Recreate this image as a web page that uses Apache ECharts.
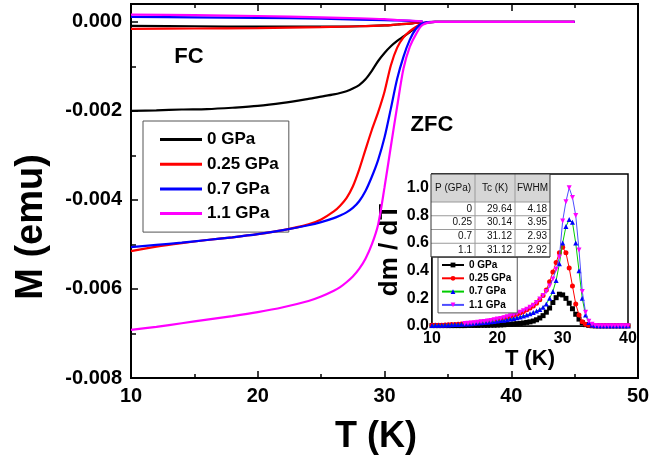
<!DOCTYPE html>
<html>
<head>
<meta charset="utf-8">
<script src="https://cdn.jsdelivr.net/npm/echarts@6/dist/echarts.min.js"></script>
<style>
html, body { margin: 0; padding: 0; background: #ffffff; }
#chart { width: 664px; height: 459px; }
</style>
</head>
<body>
<div id="chart"></div>
<script>
// ---- Magnetization M(T), ZFC branch (emu) ----
const pressureLabels = ['0 GPa', '0.25 GPa', '0.7 GPa', '1.1 GPa'];
const mainColors = ['#000000', '#ff0000', '#0000ff', '#ff00ff'];

const zfcT = [10, 12, 14, 16, 18, 20, 22, 24, 25, 26, 26.5, 27, 27.5, 28, 28.5, 29, 29.5, 30, 30.5, 31, 31.5, 32, 32.5, 33, 34, 36, 38, 40, 42, 45];
const zfc0GPa = [-0.00200, -0.00199, -0.00197, -0.00196, -0.00193, -0.00189, -0.00182, -0.00173, -0.00168, -0.00163, -0.00160, -0.00156, -0.00150, -0.00142, -0.00129, -0.00110, -0.00088, -0.00070, -0.00055, -0.00043, -0.00033, -0.00023, -0.00013, -0.00004, 0, 0, 0, 0, 0, 0];
const zfc025GPa = [-0.00515, -0.00505, -0.00497, -0.00490, -0.00484, -0.00477, -0.00468, -0.00455, -0.00444, -0.00426, -0.00413, -0.00396, -0.00370, -0.00332, -0.00287, -0.00243, -0.00203, -0.00157, -0.00098, -0.00058, -0.00035, -0.00021, -0.00011, -0.00003, 0, 0, 0, 0, 0, 0];
const zfc07GPa = [-0.00506, -0.00501, -0.00496, -0.00490, -0.00484, -0.00477, -0.00468, -0.00457, -0.00450, -0.00441, -0.00435, -0.00428, -0.00418, -0.00403, -0.00380, -0.00348, -0.00310, -0.00260, -0.00195, -0.00128, -0.00078, -0.00040, -0.00015, -0.00003, 0, 0, 0, 0, 0, 0];
const zfc11GPa = [-0.00692, -0.00685, -0.00677, -0.00669, -0.00661, -0.00652, -0.00641, -0.00627, -0.00617, -0.00604, -0.00596, -0.00585, -0.00572, -0.00555, -0.00532, -0.00500, -0.00455, -0.00372, -0.00280, -0.00190, -0.00105, -0.00056, -0.00027, -0.00007, 0, 0, 0, 0, 0, 0];

// ---- FC branch (emu) ----
const fcT = [10, 15, 20, 25, 28, 30, 31, 32, 33];
const fc0GPa = [-0.00009, -0.00010, -0.00011, -0.00011, -0.00010, -0.00008, -0.00006, -0.00004, -0.00001];
const fc025GPa = [-0.00016, -0.00015, -0.00014, -0.00012, -0.00010, -0.00008, -0.00006, -0.00004, -0.00001];
const fc07GPa = [0.00011, 0.00010, 0.00009, 0.00007, 0.00005, 0.00004, 0.00003, 0.00002, 0.00001];
const fc11GPa = [0.00016, 0.00015, 0.00013, 0.00010, 0.00008, 0.00006, 0.00004, 0.00003, 0.00001];

// ---- Inset: dm/dT (normalized) ----
const insetT = [10, 10.5, 11, 11.5, 12, 12.5, 13, 13.5, 14, 14.5,
  15, 15.5, 16, 16.5, 17, 17.5, 18, 18.5, 19, 19.5,
  20, 20.5, 21, 21.5, 22, 22.5, 23, 23.5, 24, 24.5,
  25, 25.5, 26, 26.5, 27, 27.5, 28, 28.5, 29, 29.5,
  30, 30.5, 31, 31.5, 32, 32.5, 33, 33.5, 34, 34.5,
  35, 35.5, 36, 36.5, 37, 37.5, 38, 38.5, 39, 39.5, 40];
const dmdt0GPa = [0.003, 0.003, 0.003, 0.003, 0.003, 0.003, 0.003, 0.003, 0.003, 0.003,
  0.003, 0.004, 0.004, 0.004, 0.004, 0.005, 0.005, 0.005, 0.006, 0.006,
  0.007, 0.008, 0.009, 0.011, 0.013, 0.015, 0.017, 0.019, 0.022, 0.026,
  0.030, 0.036, 0.045, 0.058, 0.075, 0.100, 0.130, 0.170, 0.205, 0.230,
  0.225, 0.200, 0.165, 0.125, 0.085, 0.050, 0.025, 0.010, 0.004, 0.002,
  0.001, 0.001, 0.001, 0.001, 0.001, 0.001, 0.001, 0.001, 0.001, 0.001, 0.001];
const dmdt025GPa = [0.005, 0.005, 0.006, 0.006, 0.008, 0.009, 0.010, 0.011, 0.013, 0.014,
  0.016, 0.018, 0.020, 0.022, 0.025, 0.027, 0.030, 0.034, 0.038, 0.042,
  0.047, 0.052, 0.057, 0.063, 0.070, 0.077, 0.085, 0.094, 0.105, 0.117,
  0.130, 0.145, 0.165, 0.190, 0.220, 0.260, 0.320, 0.390, 0.460, 0.530,
  0.570, 0.530, 0.420, 0.290, 0.160, 0.080, 0.030, 0.012, 0.005, 0.003,
  0.002, 0.002, 0.001, 0.001, 0.001, 0.001, 0.001, 0.001, 0.001, 0.001, 0.001];
const dmdt07GPa = [0.004, 0.005, 0.005, 0.006, 0.007, 0.008, 0.009, 0.010, 0.011, 0.012,
  0.014, 0.015, 0.017, 0.019, 0.021, 0.023, 0.025, 0.028, 0.030, 0.033,
  0.036, 0.039, 0.042, 0.046, 0.050, 0.055, 0.060, 0.066, 0.073, 0.080,
  0.088, 0.097, 0.108, 0.120, 0.135, 0.160, 0.200, 0.250, 0.330, 0.450,
  0.600, 0.720, 0.770, 0.750, 0.600, 0.400, 0.200, 0.080, 0.025, 0.008,
  0.003, 0.002, 0.001, 0.001, 0.001, 0.001, 0.001, 0.001, 0.001, 0.001, 0.001];
const dmdt11GPa = [null, null, null, null, null, null, null, null, null, null,
  0.018, 0.020, 0.022, 0.024, 0.027, 0.030, 0.033, 0.036, 0.040, 0.045,
  0.050, 0.055, 0.060, 0.067, 0.075, 0.082, 0.090, 0.100, 0.110, 0.122,
  0.135, 0.150, 0.170, 0.195, 0.220, 0.250, 0.290, 0.340, 0.410, 0.500,
  0.760, 0.900, 1.000, 0.930, 0.800, 0.550, 0.250, 0.100, 0.035, 0.012,
  0.004, 0.002, 0.001, 0.001, 0.001, 0.001, 0.001, 0.001, 0.001, 0.001, 0.001];

// ---- Inset table ----
const tableHeader = ['P (GPa)', 'Tc (K)', 'FWHM'];
const tablePressure = ['0', '0.25', '0.7', '1.1'];
const tableTc = ['29.64', '30.14', '31.12', '31.12'];
const tableFwhm = ['4.18', '3.95', '2.93', '2.92'];

const FONT = '"Liberation Sans", Arial, sans-serif';

const zfcSets = [zfc0GPa, zfc025GPa, zfc07GPa, zfc11GPa];
const fcSets = [fc0GPa, fc025GPa, fc07GPa, fc11GPa];
const dmdtSets = [dmdt0GPa, dmdt025GPa, dmdt07GPa, dmdt11GPa];

const insetSuffix = ' dm/dT';
const insetLineColors = ['#000000', '#ff0000', '#00cc00', '#4d4dff'];
const insetMarkColors = ['#000000', '#ff0000', '#0000ff', '#ff00ff'];
const insetSymbols = ['rect', 'circle', 'triangle', 'triangle'];
const insetRotate = [0, 0, 0, 180];

const pair = (xs, ys) => xs.map((x, i) => [x, ys[i]]);

const series = [];
[zfcT, fcT].forEach((ts, branch) => {
  const sets = branch === 0 ? zfcSets : fcSets;
  pressureLabels.forEach((name, k) => {
    series.push({
      name: name, type: 'line', xAxisIndex: 0, yAxisIndex: 0,
      data: pair(ts, sets[k]), symbol: 'none', smooth: 0.3,
      lineStyle: { color: mainColors[k], width: 2.2 }, itemStyle: { color: mainColors[k] },
      z: 3 + k
    });
  });
});
pressureLabels.forEach((name, k) => {
  series.push({
    name: name + insetSuffix, type: 'line', xAxisIndex: 2, yAxisIndex: 1,
    data: pair(insetT, dmdtSets[k]), symbol: insetSymbols[k], symbolSize: 5,
    symbolRotate: insetRotate[k], showAllSymbol: true, connectNulls: false,
    lineStyle: { color: insetLineColors[k], width: 1 },
    itemStyle: { color: insetMarkColors[k] },
    z: 10 + k
  });
});

// table graphic built from the arrays above
function buildTable() {
  const x0 = 431, y0 = 174, cols = [431, 475, 515, 550], headH = 28, rowH = 13.75;
  const bottom = y0 + headH + rowH * tablePressure.length;
  const Z = 100;
  const els = [];
  els.push({ type: 'rect', z: Z, shape: { x: x0, y: y0, width: cols[3] - x0, height: bottom - y0 },
    style: { fill: '#ffffff' } });
  els.push({ type: 'rect', z: Z, shape: { x: x0, y: y0, width: cols[3] - x0, height: headH },
    style: { fill: '#d6d6d6' } });
  for (let r = 0; r <= tablePressure.length; r++) {
    const y = y0 + headH + rowH * r;
    els.push({ type: 'line', z: Z, shape: { x1: x0, y1: y, x2: cols[3], y2: y },
      style: { stroke: r === tablePressure.length ? '#333' : '#9a9a9a', lineWidth: 1 } });
  }
  for (let c = 1; c < 3; c++) {
    els.push({ type: 'line', z: Z, shape: { x1: cols[c], y1: y0, x2: cols[c], y2: bottom },
      style: { stroke: '#9a9a9a', lineWidth: 1 } });
  }
  els.push({ type: 'rect', z: Z, shape: { x: x0, y: y0, width: cols[3] - x0, height: bottom - y0 },
    style: { fill: 'none', stroke: '#333', lineWidth: 1 } });
  tableHeader.forEach((h, c) => {
    els.push({ type: 'text', z: Z + 1, x: (cols[c] + cols[c + 1]) / 2, y: y0 + headH / 2,
      style: { text: h, fill: '#111', font: '10px ' + FONT, align: 'center', verticalAlign: 'middle' } });
  });
  const cells = [tablePressure, tableTc, tableFwhm];
  tablePressure.forEach((_, r) => {
    cells.forEach((col, c) => {
      els.push({ type: 'text', z: Z + 1, x: cols[c + 1] - 3, y: y0 + headH + rowH * (r + 0.5),
        style: { text: col[r], fill: '#111', font: '10px ' + FONT, align: 'right', verticalAlign: 'middle' } });
    });
  });
  return els;
}

const boldAxisLabel = (size) => ({ color: '#000', fontFamily: FONT, fontWeight: 'bold', fontSize: size });

const option = {
  animation: false,
  backgroundColor: '#ffffff',
  grid: [
    { left: 131, right: 26, top: 4, bottom: 81, show: true, borderColor: '#000', borderWidth: 2, backgroundColor: 'transparent' },
    { left: 432, right: 36, top: 174, bottom: 133, show: true, borderColor: '#000', borderWidth: 1.5, backgroundColor: '#ffffff', z: 5 }
  ],
  xAxis: [
    { gridIndex: 0, type: 'value', min: 10, max: 50, interval: 10,
      axisLine: { onZero: false, lineStyle: { color: '#000', width: 2 } },
      axisTick: { inside: true, length: 7, lineStyle: { color: '#000', width: 1.5 } },
      minorTick: { show: true, splitNumber: 2, length: 4, lineStyle: { color: '#000', width: 1.5 } },
      splitLine: { show: false },
      axisLabel: Object.assign({ margin: 8 }, boldAxisLabel(20)) },
    { gridIndex: 0, type: 'value', position: 'top', min: 10, max: 50, interval: 10,
      axisLine: { onZero: false, lineStyle: { color: '#000', width: 2 } },
      axisTick: { inside: true, length: 7, lineStyle: { color: '#000', width: 1.5 } },
      minorTick: { show: true, splitNumber: 2, length: 4, lineStyle: { color: '#000', width: 1.5 } },
      splitLine: { show: false }, axisLabel: { show: false } },
    { gridIndex: 1, type: 'value', min: 10, max: 40, interval: 10,
      name: 'T (K)', nameLocation: 'middle', nameGap: 20,
      nameTextStyle: { fontFamily: FONT, fontWeight: 'bold', fontSize: 22, color: '#000' },
      axisLine: { onZero: false, lineStyle: { color: '#000', width: 1.5 } },
      axisTick: { inside: true, length: 3, lineStyle: { color: '#000' } },
      splitLine: { show: false },
      axisLabel: Object.assign({ margin: 5 }, boldAxisLabel(16)) }
  ],
  yAxis: [
    { gridIndex: 0, type: 'value', min: -0.008, max: 0.0004, interval: 0.002,
      axisLine: { show: true, onZero: false, lineStyle: { color: '#000', width: 2 } },
      axisTick: { inside: true, length: 7, lineStyle: { color: '#000', width: 1.5 } },
      minorTick: { show: true, splitNumber: 2, length: 5, lineStyle: { color: '#000', width: 1.5 } },
      splitLine: { show: false },
      axisLabel: Object.assign({ margin: 9, showMaxLabel: false,
        formatter: (v) => (Math.abs(v) < 1e-9 ? 0 : v).toFixed(3) }, boldAxisLabel(20)) },
    { gridIndex: 1, type: 'value', min: 0, max: 1.1, interval: 0.2,
      name: 'dm / dT', nameLocation: 'middle', nameGap: 25, nameRotate: 90,
      nameTextStyle: { fontFamily: FONT, fontWeight: 'bold', fontSize: 26, color: '#000' },
      axisLine: { show: true, onZero: false, lineStyle: { color: '#000', width: 1.5 } },
      axisTick: { inside: true, length: 3, lineStyle: { color: '#000' } },
      splitLine: { show: false },
      axisLabel: Object.assign({ margin: 3, showMaxLabel: false,
        formatter: (v) => v.toFixed(1) }, boldAxisLabel(16)) }
  ],
  legend: [
    { data: pressureLabels.map((n) => ({ name: n, icon: 'rect' })),
      orient: 'vertical', left: 143, top: 121,
      padding: [10, 10, 10, 17], itemWidth: 42, itemHeight: 3, itemGap: 7.7,
      borderColor: '#555', borderWidth: 1, backgroundColor: '#ffffff',
      selectedMode: false,
      textStyle: { fontFamily: FONT, fontWeight: 'bold', fontSize: 17, lineHeight: 15, color: '#000' } },
    { data: pressureLabels.map((p) => p + insetSuffix), orient: 'vertical', left: 438, top: 257,
      padding: [3, 6, 3, 3], itemWidth: 22, itemHeight: 6, itemGap: 3.3,
      borderColor: '#555', borderWidth: 1, backgroundColor: '#ffffff', z: 20,
      selectedMode: false,
      formatter: (name) => name.replace(insetSuffix, ''),
      textStyle: { fontFamily: FONT, fontWeight: 'bold', fontSize: 10, lineHeight: 10, color: '#000' } }
  ],
  graphic: [
    { type: 'text', z: 50, x: 32, y: 227, rotation: Math.PI / 2,
      style: { text: 'M (emu)', fill: '#000', font: 'bold 38px ' + FONT, align: 'center', verticalAlign: 'middle' } },
    { type: 'text', z: 50, x: 376, y: 437,
      style: { text: 'T (K)', fill: '#000', font: 'bold 36px ' + FONT, align: 'center', verticalAlign: 'middle' } },
    { type: 'text', z: 50, x: 189, y: 57,
      style: { text: 'FC', fill: '#000', font: 'bold 22px ' + FONT, align: 'center', verticalAlign: 'middle' } },
    { type: 'text', z: 50, x: 432, y: 125,
      style: { text: 'ZFC', fill: '#000', font: 'bold 22px ' + FONT, align: 'center', verticalAlign: 'middle' } }
  ].concat(buildTable()),
  series: series
};

const chart = echarts.init(document.getElementById('chart'), null, { renderer: 'canvas' });
chart.setOption(option);
</script>
</body>
</html>
